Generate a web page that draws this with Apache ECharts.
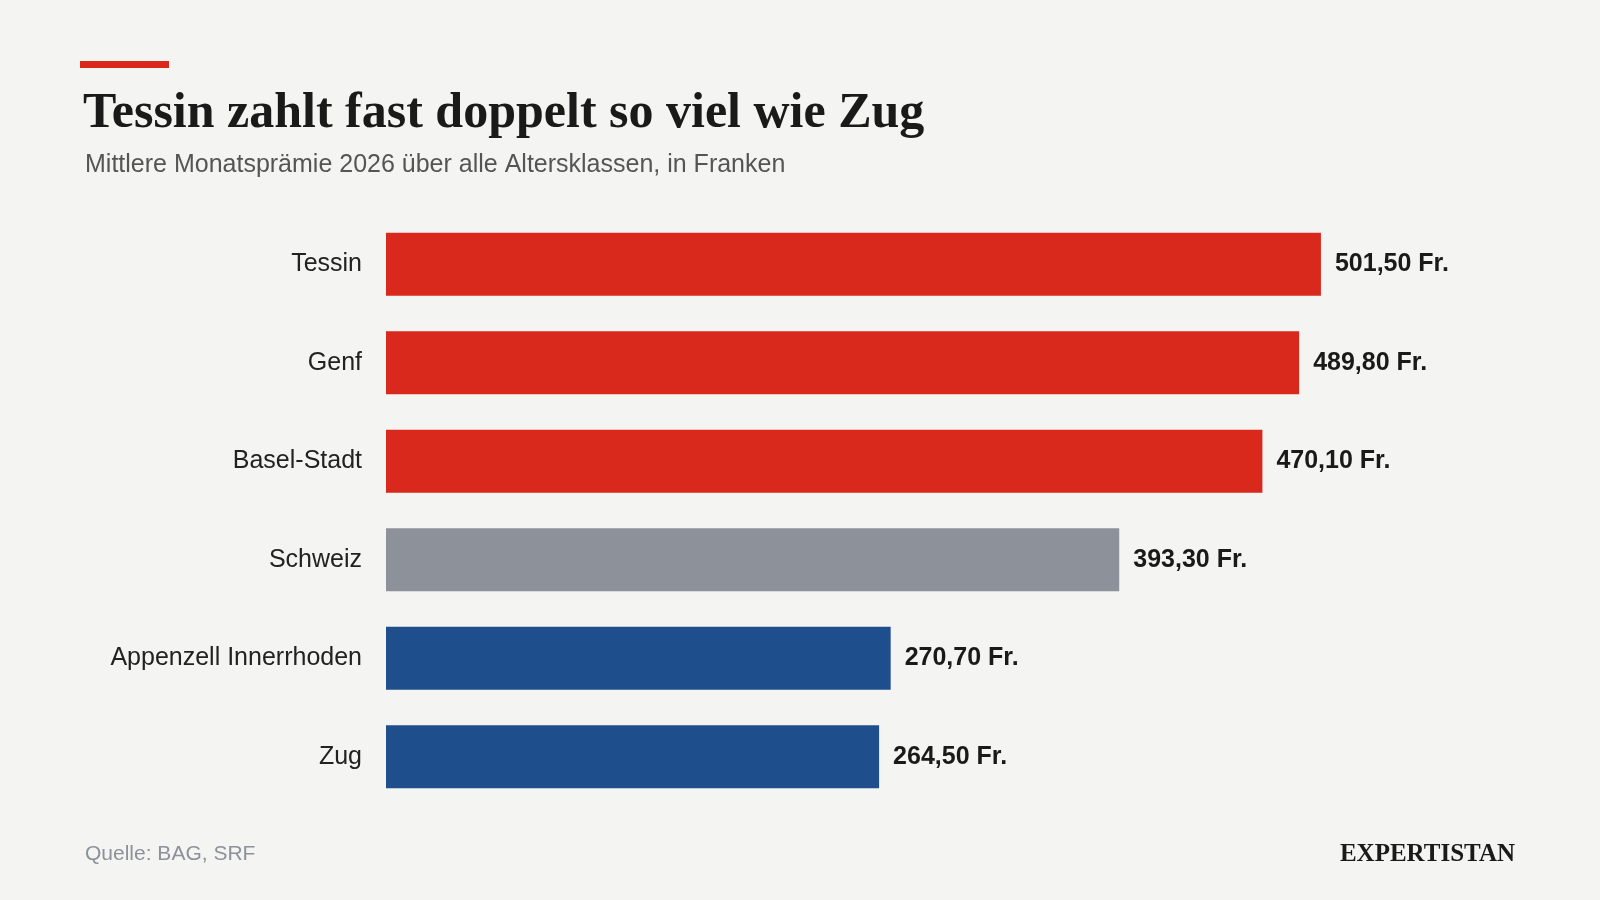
<!DOCTYPE html>
<html><head><meta charset="utf-8">
<script src="https://cdn.jsdelivr.net/npm/echarts@6/dist/echarts.min.js"></script>
<style>html,body{margin:0;background:#f4f4f2}#c{width:1600px;height:900px}</style>
</head><body><div id="c"></div>
<script>
const categories = ["Tessin","Genf","Basel-Stadt","Schweiz","Appenzell Innerrhoden","Zug"];
const values = [501.5,489.8,470.1,393.3,270.7,264.5];
const colors = ["#d9291c","#d9291c","#d9291c","#8c919a","#1f4e8c","#1f4e8c"];
const fmt = v => v.toFixed(2).replace('.',',') + ' Fr.';
const chart = echarts.init(document.getElementById('c'));
chart.setOption({
  backgroundColor:'#f4f4f2',
  animation:false,
  title:[
    {text:'Tessin zahlt fast doppelt so viel wie Zug',left:78,top:84,
     textStyle:{fontFamily:'Liberation Serif',fontWeight:'bold',fontSize:50,color:'#1a1a1a'}},
    {text:'Mittlere Monatsprämie 2026 über alle Altersklassen, in Franken',left:80,top:148,
     textStyle:{fontFamily:'Liberation Sans',fontWeight:'normal',fontSize:25,color:'#555'}},
    {text:'Quelle: BAG, SRF',left:80,top:839,
     textStyle:{fontFamily:'Liberation Sans',fontWeight:'normal',fontSize:21,color:'#8c919a'}},
    {text:'EXPERTISTAN',right:80,top:837,
     textStyle:{fontFamily:'Liberation Serif',fontWeight:'bold',fontSize:25,color:'#1a1a1a'}}
  ],
  graphic:[{type:'rect',shape:{x:80,y:61,width:89,height:7},style:{fill:'#d9291c'}}],
  grid:{left:386,top:215,width:1044,height:591},
  xAxis:{type:'value',min:0,max:560,show:false},
  yAxis:{type:'category',data:categories,inverse:true,
    axisLine:{show:false},axisTick:{show:false},
    axisLabel:{margin:24,fontFamily:'Liberation Sans',fontSize:25,color:'#222'}},
  series:[{type:'bar',barWidth:63,
    data:values.map((v,i)=>({value:v,itemStyle:{color:colors[i]}})),
    label:{show:true,position:'right',distance:14,formatter:p=>fmt(p.value),
      fontFamily:'Liberation Sans',fontWeight:'bold',fontSize:25,color:'#1a1a1a'}}]
});
</script></body></html>
